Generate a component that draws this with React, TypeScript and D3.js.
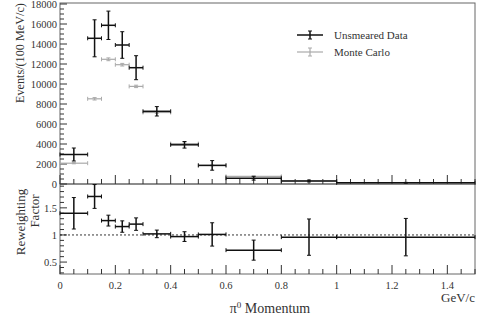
import React from 'react';
import * as d3 from 'd3';

// bins (GeV/c)
const binLo = [0, 0.1, 0.15, 0.2, 0.25, 0.3, 0.4, 0.5, 0.6, 0.8, 1.0];
const binHi = [0.1, 0.15, 0.2, 0.25, 0.3, 0.4, 0.5, 0.6, 0.8, 1.0, 1.5];

// unsmeared data
const dataVal = [2950, 14570, 15870, 13900, 11630, 7270, 3920, 1860, 580, 300, 120];
const dataErr = [650, 1850, 1420, 1330, 1200, 470, 330, 480, 190, 90, 40];

// monte carlo
const mcVal = [2080, 8520, 12470, 11930, 9760, 7150, 4040, 1860, 760, 320, 130];
const mcErr = [60, 120, 140, 130, 120, 80, 60, 40, 30, 20, 10];

// reweighting factor
const rwVal = [1.40, 1.71, 1.265, 1.155, 1.20, 1.02, 0.97, 1.01, 0.72, 0.96, 0.96];
const rwErr = [0.29, 0.22, 0.10, 0.105, 0.115, 0.07, 0.09, 0.215, 0.185, 0.335, 0.345];

const topTicks = [0, 2000, 4000, 6000, 8000, 10000, 12000, 14000, 16000, 18000];
const botTicks = [0.5, 1, 1.5];
const xTicks = [0, 0.2, 0.4, 0.6, 0.8, 1, 1.2, 1.4];

const FONT = '"Liberation Serif", "DejaVu Serif", serif';

const App: React.FC = () => {
  const left = 60, right = 475;
  const topY0 = 3, topY1 = 184, botY1 = 274;

  const x = d3.scaleLinear().domain([0, 1.5]).range([left, right]);
  const yTop = d3.scaleLinear().domain([0, 18100]).range([topY1, topY0]);
  const yBot = d3.scaleLinear().domain([0.28, 1.94]).range([botY1, topY1]);

  const minorX = d3.range(0, 1.5001, 0.05);
  const minorTop = d3.range(0, 18001, 500);
  const minorBot = d3.range(0.3, 1.91, 0.1);

  const errBars = (
    vals: number[], errs: number[], y: d3.ScaleLinear<number, number>,
    color: string, sw: number, key: string
  ) => vals.map((v, i) => {
    const xa = x(binLo[i]), xb = x(binHi[i]);
    const xc = x((binLo[i] + binHi[i]) / 2);
    const yc = y(v);
    const yt = Math.max(y(v + errs[i]), y.range()[1]);
    const yb = Math.min(y(v - errs[i]), y.range()[0]);
    return (
      <g key={key + i} stroke={color} strokeWidth={sw}>
        <line x1={xa} x2={xb} y1={yc} y2={yc} />
        <line x1={xa} x2={xa} y1={yc - 2} y2={yc + 2} strokeWidth={1} />
        <line x1={xb} x2={xb} y1={yc - 2} y2={yc + 2} strokeWidth={1} />
        <line x1={xc} x2={xc} y1={yt} y2={yb} />
        <line x1={xc - 2} x2={xc + 2} y1={yt} y2={yt} strokeWidth={1} />
        <line x1={xc - 2} x2={xc + 2} y1={yb} y2={yb} strokeWidth={1} />
      </g>
    );
  });

  const xAxisTicks = (yBase: number, key: string) => (
    <g stroke="#333" strokeWidth={1}>
      {minorX.map((t, i) => {
        const major = Math.abs(t / 0.2 - Math.round(t / 0.2)) < 1e-6;
        return <line key={key + i} x1={x(t)} x2={x(t)} y1={yBase} y2={yBase - (major ? 9 : 5)} />;
      })}
    </g>
  );

  return (
    <svg width={478} height={320} style={{ position: 'absolute', left: 0, top: 0, background: '#fff' }}
      fontFamily={FONT}>
      <rect x={0} y={0} width={478} height={320} fill="#fff" />
      {/* frames */}
      <rect x={left} y={topY0} width={right - left} height={topY1 - topY0} fill="none" stroke="#666" strokeWidth={1} />
      <rect x={left} y={topY1} width={right - left} height={botY1 - topY1} fill="none" stroke="#666" strokeWidth={1} />

      {/* y ticks */}
      <g stroke="#333" strokeWidth={1}>
        {minorTop.map((t, i) => (
          <line key={'mt' + i} x1={left} x2={left + (t % 2000 === 0 ? 7 : 4)} y1={yTop(t)} y2={yTop(t)} />
        ))}
        {minorBot.map((t, i) => {
          const major = Math.abs(t / 0.5 - Math.round(t / 0.5)) < 1e-6;
          return <line key={'mb' + i} x1={left} x2={left + (major ? 7 : 4)} y1={yBot(t)} y2={yBot(t)} />;
        })}
      </g>
      {xAxisTicks(topY1, 'xt')}
      {xAxisTicks(botY1, 'xb')}

      <g fontSize={10.5} fill="#333" textAnchor="end">
        {topTicks.map(t => (
          <text key={'tl' + t} x={left - 3} y={yTop(t)} dy="0.35em">{t}</text>
        ))}
        {botTicks.map(t => (
          <text key={'bl' + t} x={left - 3} y={yBot(t)} dy="0.35em">{t}</text>
        ))}
      </g>
      <g fontSize={10.5} fill="#333" textAnchor="middle">
        {xTicks.map(t => (
          <text key={'xl' + t} x={x(t)} y={289}>{t}</text>
        ))}
      </g>

      {/* reference line */}
      <line x1={left} x2={right} y1={yBot(1)} y2={yBot(1)} stroke="#000" strokeWidth={0.8} strokeDasharray="2,2" />

      {/* marks */}
      {errBars(mcVal, mcErr, yTop, '#aaa', 1.2, 'mc')}
      {errBars(dataVal, dataErr, yTop, '#111', 1.5, 'dt')}
      {errBars(rwVal, rwErr, yBot, '#111', 1.5, 'rw')}

      {/* legend */}
      <g stroke="#111" strokeWidth={1.5}>
        <line x1={297} x2={323} y1={35} y2={35} />
        <line x1={310} x2={310} y1={31} y2={39} />
        <line x1={308} x2={312} y1={31} y2={31} strokeWidth={1} />
        <line x1={308} x2={312} y1={39} y2={39} strokeWidth={1} />
      </g>
      <g stroke="#aaa" strokeWidth={1.2}>
        <line x1={297} x2={323} y1={52} y2={52} />
        <line x1={310} x2={310} y1={48} y2={56} />
        <line x1={308} x2={312} y1={48} y2={48} strokeWidth={1} />
        <line x1={308} x2={312} y1={56} y2={56} strokeWidth={1} />
      </g>
      <g fontSize={11} fill="#333">
        <text x={334} y={35} dy="0.35em">Unsmeared Data</text>
        <text x={334} y={52} dy="0.35em">Monte Carlo</text>
      </g>

      {/* axis titles */}
      <g fontSize={13} fill="#333" textAnchor="middle">
        <text transform="translate(24,103) rotate(-90)" textAnchor="start" fontSize={12.2}>Events/(100 MeV/c)</text>
        <text transform="translate(25,222) rotate(-90)">Reweighting</text>
        <text transform="translate(39,211) rotate(-90)">Factor</text>
        <text x={270} y={313} fontSize={14}>π<tspan dy={-5} fontSize={9}>0</tspan><tspan dy={5}> Momentum</tspan></text>
        <text x={475} y={302} textAnchor="end">GeV/c</text>
      </g>
    </svg>
  );
};

export default App;
